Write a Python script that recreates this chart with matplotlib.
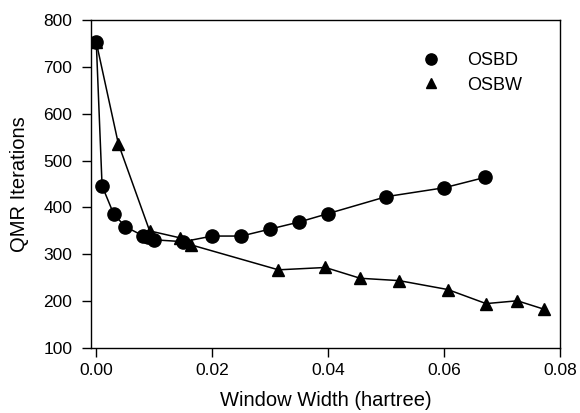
import matplotlib
matplotlib.use("Agg")
import matplotlib.pyplot as plt

plt.rcParams["font.family"] = ["Liberation Sans", "DejaVu Sans"]

# OSBD series
osbd_x = [0.0, 0.001, 0.003, 0.005, 0.008, 0.009, 0.010, 0.015, 0.020, 0.025,
          0.030, 0.035, 0.040, 0.050, 0.060, 0.067]
osbd_y = [752, 446, 386, 359, 340, 338, 331, 327, 339, 339,
          354, 369, 387, 423, 442, 464]

# OSBW series
osbw_x = [0.0, 0.0038, 0.0092, 0.0145, 0.0164, 0.0314, 0.0395, 0.0455, 0.0522,
          0.0606, 0.0672, 0.0726, 0.0772]
osbw_y = [752, 536, 350, 335, 320, 267, 272, 249, 244, 225, 195, 201, 183]

fig = plt.figure(figsize=(5.8, 4.13), dpi=100)
ax = fig.add_axes([0.157, 0.157, 0.809, 0.795])

ax.plot(osbd_x, osbd_y, "k-", marker="o", markersize=9.5, lw=1.1, label="OSBD")
ax.plot(osbw_x, osbw_y, "k-", marker="^", markersize=9, lw=1.1, label="OSBW")

ax.set_xlim(-0.0009, 0.08)
ax.set_ylim(100, 800)
ax.set_xticks([0.0, 0.02, 0.04, 0.06, 0.08])
ax.set_xticklabels(["0.00", "0.02", "0.04", "0.06", "0.08"])
ax.set_yticks(range(100, 801, 100))
ax.tick_params(direction="out", length=6.5, width=1, labelsize=12.5)
ax.tick_params(axis="x", pad=4.3)
ax.tick_params(axis="y", pad=7)
for s in ax.spines.values():
    s.set_linewidth(1)

ax.set_xlabel("Window Width (hartree)", fontsize=14.5, labelpad=9.5)
ax.set_ylabel("QMR Iterations", fontsize=14.5, labelpad=10)

ax.legend(loc="upper left", bbox_to_anchor=(0.69, 0.95), frameon=False,
          handlelength=0, handletextpad=2.0, fontsize=13, labelspacing=0.4,
          markerscale=0.85)

fig.savefig("out.png", dpi=100)
